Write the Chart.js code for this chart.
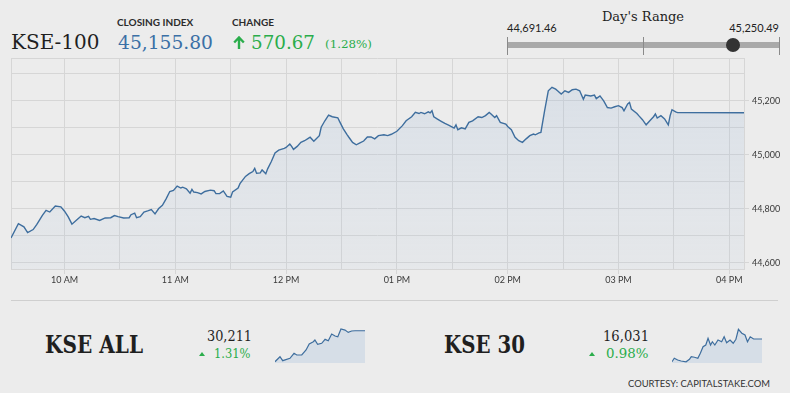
<!DOCTYPE html>
<html>
<head>
<meta charset="utf-8">
<script src="https://cdn.jsdelivr.net/npm/chart.js@4.4.0/dist/chart.umd.min.js"></script>
<style>
  html, body { margin: 0; padding: 0; }
  body { width: 790px; height: 393px; background: #ececec; position: relative; overflow: hidden; font-family: Lato, sans-serif; }
  .t { position: absolute; white-space: nowrap; line-height: 1; transform-origin: left top; }
  .serif { font-family: "DejaVu Serif", serif; }
  .lab { font-family: Lato, sans-serif; font-weight: bold; font-size: 10px; color: #2b2b2b; }
  .green { color: #2aad4b; }
  #mainWrap { position: absolute; left: 0; top: 50px; width: 790px; height: 250px; }
  .spark { position: absolute; }
  .tri { position: absolute; width: 0; height: 0; border-left: 3px solid transparent; border-right: 3px solid transparent; border-bottom: 4px solid #2aad4b; }
</style>
</head>
<body>
<script>
// ---------------- DATA ----------------
const indexName = "KSE-100";
const closingIndex = 45155.80;
const changePoints = 570.67;
const changePct = 1.28;
const dayLow = 44691.46;
const dayHigh = 45250.49;

const kse100Times = [
  "09:31","09:35","09:38","09:40","09:43","09:45","09:48","09:50","09:52","09:55",
  "09:58","10:00","10:02","10:04","10:07","10:09","10:11","10:13","10:14","10:16",
  "10:19","10:22","10:25","10:27","10:29","10:32","10:35","10:36","10:38","10:39",
  "10:41","10:43","10:45","10:47","10:49","10:51","10:53","10:55","10:57","10:59",
  "11:01","11:03","11:04","11:06","11:08","11:09","11:10","11:12","11:14","11:16",
  "11:19","11:21","11:22","11:24","11:26","11:28","11:30","11:31","11:34","11:35",
  "11:38","11:40","11:42","11:43","11:44","11:46","11:47","11:49","11:50","11:52",
  "11:54","11:56","11:59","12:00","12:02","12:03","12:04","12:06","12:08","12:10",
  "12:12","12:13","12:15","12:18","12:19","12:21","12:23","12:25","12:28","12:29",
  "12:31","12:33","12:34","12:36","12:38","12:40","12:42","12:44","12:46","12:48",
  "12:50","12:53","12:55","12:57","13:00","13:03","13:05","13:08","13:10","13:12",
  "13:13","13:15","13:17","13:18","13:19","13:20","13:22","13:24","13:26","13:28",
  "13:31","13:32","13:33","13:35","13:37","13:39","13:41","13:44","13:46","13:48",
  "13:50","13:51","13:53","13:54","13:56","13:59","14:00","14:02","14:04","14:06",
  "14:08","14:10","14:12","14:14","14:15","14:17","14:18","14:20","14:22","14:24",
  "14:26","14:27","14:29","14:31","14:33","14:35","14:37","14:39","14:41","14:42",
  "14:45","14:47","14:48","14:50","14:52","14:54","14:56","14:58","15:00","15:02",
  "15:03","15:05","15:06","15:07","15:10","15:11","15:13","15:15","15:17","15:19",
  "15:20","15:21","15:23","15:25","15:27","15:28","15:29","15:31","15:32","16:08"
];
const kse100Values = [
  44692,44745,44733,44712,44723,44742,44776,44794,44788,44810,
  44807,44791,44770,44743,44761,44773,44767,44772,44761,44764,
  44757,44766,44767,44775,44771,44766,44767,44778,44784,44767,
  44771,44788,44792,44797,44781,44801,44813,44837,44864,44868,
  44884,44877,44880,44874,44858,44872,44862,44860,44855,44864,
  44869,44867,44856,44856,44866,44846,44843,44862,44877,44893,
  44920,44930,44938,44950,44932,44933,44944,44930,44948,44975,
  45007,45017,45024,45027,45040,45031,45020,45031,45046,45052,
  45061,45065,45050,45071,45102,45126,45147,45141,45137,45123,
  45096,45075,45065,45046,45037,45044,45051,45066,45066,45059,
  45071,45074,45071,45076,45087,45108,45126,45141,45157,45153,
  45157,45152,45159,45155,45163,45141,45132,45124,45116,45110,
  45099,45111,45093,45100,45096,45120,45126,45141,45138,45145,
  45157,45151,45138,45145,45120,45114,45105,45093,45065,45052,
  45046,45059,45071,45077,45074,45081,45083,45163,45237,45250,
  45243,45237,45225,45237,45231,45241,45243,45237,45206,45221,
  45218,45221,45208,45218,45200,45175,45173,45178,45182,45175,
  45163,45188,45194,45169,45153,45145,45130,45111,45126,45141,
  45151,45136,45145,45133,45111,45145,45167,45159,45156,45155.8
];

const xGridTimes = ["10:00","10:30","11:00","11:30","12:00","12:30","13:00","13:30","14:00","14:30","15:00","15:30","16:00"];
const xTickTimes = ["10:00","11:00","12:00","13:00","14:00","15:00","16:00"];
const xTickLabels = ["10 AM","11 AM","12 PM","01 PM","02 PM","03 PM","04 PM"];
const yGridValues = [44600,44700,44800,44900,45000,45100,45200,45300];
const yTickValues = [44600,44800,45000,45200];
const yTickLabels = ["44,600","44,800","45,000","45,200"];
const yMin = 44577, yMax = 45357;

const subIndices = ["KSE ALL","KSE 30"];
const subValues = ["30,211","16,031"];
const subChanges = ["1.31%","0.98%"];

const kseAllTimes = ["09:31","09:53","10:05","10:37","10:55","11:07","11:29","11:48","12:02","12:20","12:27","12:39","12:57","13:12","13:26","13:41","13:56","14:08","14:22","14:40","14:54","15:09","15:24","16:08"];
const kseAllValues = [29851,29909,29863,29891,29949,29929,29929,29987,30057,30083,30103,30053,30065,30111,30095,30173,30150,30141,30231,30219,30192,30208,30211,30211];
const kse30Times = ["09:31","09:41","09:56","10:11","10:33","10:48","10:56","11:10","11:25","11:36","11:48","12:00","12:10","12:21","12:29","12:40","12:54","13:10","13:21","13:32","13:47","14:01","14:13","14:24","14:39","14:53","15:04","15:16","15:31","16:08"];
const kse30Values = [15849,15877,15863,15855,15849,15869,15889,15885,15877,15917,15969,15983,16037,15983,16009,15983,16023,16009,16049,16001,16023,15997,16029,16109,16077,16063,16009,16049,16031,16031];
// ---------------------------------------

const toMin = s => { const [h, m] = s.split(":").map(Number); return h * 60 + m; };
</script>

<!-- Header -->
<div class="t serif" id="kseName" style="left:11px; top:32px; font-size:20px; color:#1f1f1f;"></div>
<div class="t lab" style="left:117px; top:17px;">CLOSING INDEX</div>
<div class="t serif" id="closeVal" style="left:118px; top:33px; font-size:19px; color:#3b70a6;" data-w="95"></div>
<div class="t lab" style="left:232px; top:17px;">CHANGE</div>
<svg style="position:absolute; left:233px; top:36px;" width="12" height="13" viewBox="0 0 12 13">
  <path d="M6 13 V2 M1.2 6.5 L6 1.5 L10.8 6.5" fill="none" stroke="#2aad4b" stroke-width="2.4"/>
</svg>
<div class="t serif green" id="chgVal" style="left:251px; top:33px; font-size:19px;" data-w="64"></div>
<div class="t serif green" id="chgPct" style="left:325px; top:38.5px; font-size:11px;" data-w="47"></div>

<!-- Day's range -->
<div class="t serif" style="left:543px; width:200px; text-align:center; top:10px; font-size:13px; color:#1f1f1f;">Day's Range</div>
<div class="t" id="lowTxt" style="left:507px; top:22px; font-size:11px; color:#222;"></div>
<div class="t" id="highTxt" style="right:11px; top:22px; font-size:11px; color:#222;"></div>
<div style="position:absolute; left:507px; top:42px; width:272px; height:6px; background:#a9a9a9;"></div>
<div style="position:absolute; left:507px; top:37px; width:1px; height:18px; background:#8a8a8a;"></div>
<div style="position:absolute; left:643px; top:37px; width:1px; height:18px; background:#8a8a8a;"></div>
<div style="position:absolute; left:779px; top:37px; width:1px; height:18px; background:#8a8a8a;"></div>
<div id="dot" style="position:absolute; top:38px; width:14px; height:14px; border-radius:50%; background:#333;"></div>

<div id="mainWrap"><canvas id="main" width="790" height="250"></canvas></div>

<!-- separator -->
<div style="position:absolute; left:11px; top:300px; width:767px; height:1px; background:#cfcfcf;"></div>

<!-- Bottom indices -->
<div class="t serif" id="sub0" style="left:45px; top:332px; font-size:25px; font-weight:bold; color:#1f1f1f;" data-w="98"></div>
<div class="t serif" id="subv0" style="left:207px; top:329px; font-size:14px; color:#1f1f1f;" data-w="45"></div>
<div class="tri" style="left:199px; top:352px;"></div>
<div class="t serif green" id="subc0" style="left:214px; top:347px; font-size:13px;" data-w="36.5"></div>
<div class="spark" style="left:275px; top:326px;"><canvas id="spark0" width="90" height="37"></canvas></div>

<div class="t serif" id="sub1" style="left:444px; top:332px; font-size:25px; font-weight:bold; color:#1f1f1f;" data-w="81"></div>
<div class="t serif" id="subv1" style="left:603px; top:329px; font-size:14px; color:#1f1f1f;" data-w="46"></div>
<div class="tri" style="left:589px; top:352px;"></div>
<div class="t serif green" id="subc1" style="left:606px; top:347px; font-size:13px;" data-w="42.5"></div>
<div class="spark" style="left:672px; top:326px;"><canvas id="spark1" width="90" height="37"></canvas></div>

<div class="t" style="left:628px; top:378px; font-size:10px; color:#333;" data-w="142">COURTESY: CAPITALSTAKE.COM</div>

<script>
const fmt2 = v => v.toLocaleString('en-US', {minimumFractionDigits: 2, maximumFractionDigits: 2});
document.getElementById('kseName').textContent = indexName;
document.getElementById('closeVal').textContent = fmt2(closingIndex);
document.getElementById('chgVal').textContent = fmt2(changePoints);
document.getElementById('chgPct').textContent = '(' + changePct.toFixed(2) + '%)';
document.getElementById('lowTxt').textContent = fmt2(dayLow);
document.getElementById('highTxt').textContent = fmt2(dayHigh);
document.getElementById('dot').style.left = (507 + (closingIndex - dayLow) / (dayHigh - dayLow) * 272 - 7) + 'px';
for (let i = 0; i < 2; i++) {
  document.getElementById('sub' + i).textContent = subIndices[i];
  document.getElementById('subv' + i).textContent = subValues[i];
  document.getElementById('subc' + i).textContent = subChanges[i];
}
document.querySelectorAll('[data-w]').forEach(el => {
  const w = el.getBoundingClientRect().width;
  const target = parseFloat(el.dataset.w);
  if (w > 0) el.style.transform = 'scaleX(' + (target / w) + ')';
});

Chart.defaults.font.family = 'Lato';
Chart.defaults.animation = false;

const gridColor = '#d6d6d6';
const lineColor = '#3e6e9e';
const xMinV = toMin(kse100Times[0]);
const xMaxV = toMin(kse100Times[kse100Times.length - 1]);
const xTickMins = xTickTimes.map(toMin);

new Chart(document.getElementById('main'), {
  type: 'line',
  data: {
    datasets: [{
      data: kse100Times.map((t, i) => ({ x: toMin(t), y: kse100Values[i] })),
      borderColor: lineColor,
      borderWidth: 1.4,
      pointRadius: 0,
      tension: 0,
      fill: 'start',
      backgroundColor: (ctx) => {
        const ca = ctx.chart.chartArea;
        if (!ca) return 'rgba(150,180,215,0.15)';
        const g = ctx.chart.ctx.createLinearGradient(0, ca.top, 0, ca.bottom);
        g.addColorStop(0, 'rgba(150,180,215,0.22)');
        g.addColorStop(1, 'rgba(150,180,215,0.07)');
        return g;
      }
    }]
  },
  options: {
    responsive: false,
    layout: { padding: { left: 11, top: 7, right: 0, bottom: 0 } },
    plugins: { legend: { display: false }, tooltip: { enabled: false } },
    scales: {
      x: {
        type: 'linear',
        min: xMinV, max: xMaxV,
        afterBuildTicks: (s) => { s.ticks = [xMinV].concat(xGridTimes.map(toMin)).map(v => ({ value: v })); },
        afterFit: (s) => { s.height = 31; },
        grid: {
          color: gridColor,
          tickLength: 5,
          tickColor: (c) => (c.tick && xTickMins.includes(c.tick.value)) ? gridColor : 'rgba(0,0,0,0)'
        },
        border: { display: true, color: gridColor },
        ticks: {
          autoSkip: false, maxRotation: 0, padding: 1,
          color: '#3a3a3a', font: { size: 9 },
          callback: (v) => { const k = xTickMins.indexOf(v); return k >= 0 ? xTickLabels[k] : ''; }
        }
      },
      y: {
        position: 'right',
        min: yMin, max: yMax,
        afterBuildTicks: (s) => { s.ticks = [yMin].concat(yGridValues, [yMax]).map(v => ({ value: v })); },
        afterFit: (s) => { s.width = 46; },
        grid: {
          color: gridColor,
          tickLength: 5,
          tickColor: (c) => (c.tick && yTickValues.includes(c.tick.value)) ? gridColor : 'rgba(0,0,0,0)'
        },
        border: { display: true, color: gridColor },
        ticks: {
          padding: 3, color: '#3a3a3a', font: { size: 9 },
          callback: (v) => { const k = yTickValues.indexOf(v); return k >= 0 ? yTickLabels[k] : ''; }
        }
      }
    }
  }
});

function spark(id, times, values, lo, hi) {
  new Chart(document.getElementById(id), {
    type: 'line',
    data: { datasets: [{
      data: times.map((t, i) => ({ x: toMin(t), y: values[i] })),
      borderColor: lineColor, borderWidth: 1.2, pointRadius: 0, tension: 0,
      fill: 'start', backgroundColor: 'rgba(150,180,215,0.26)'
    }] },
    options: {
      responsive: false,
      layout: { padding: 0 },
      plugins: { legend: { display: false }, tooltip: { enabled: false } },
      scales: {
        x: { type: 'linear', display: false, min: toMin(times[0]), max: toMin(times[times.length - 1]) },
        y: { display: false, min: lo, max: hi }
      }
    }
  });
}
spark('spark0', kseAllTimes, kseAllValues, 29836, 30266);
spark('spark1', kse30Times, kse30Values, 15839, 16135);
</script>
</body>
</html>
